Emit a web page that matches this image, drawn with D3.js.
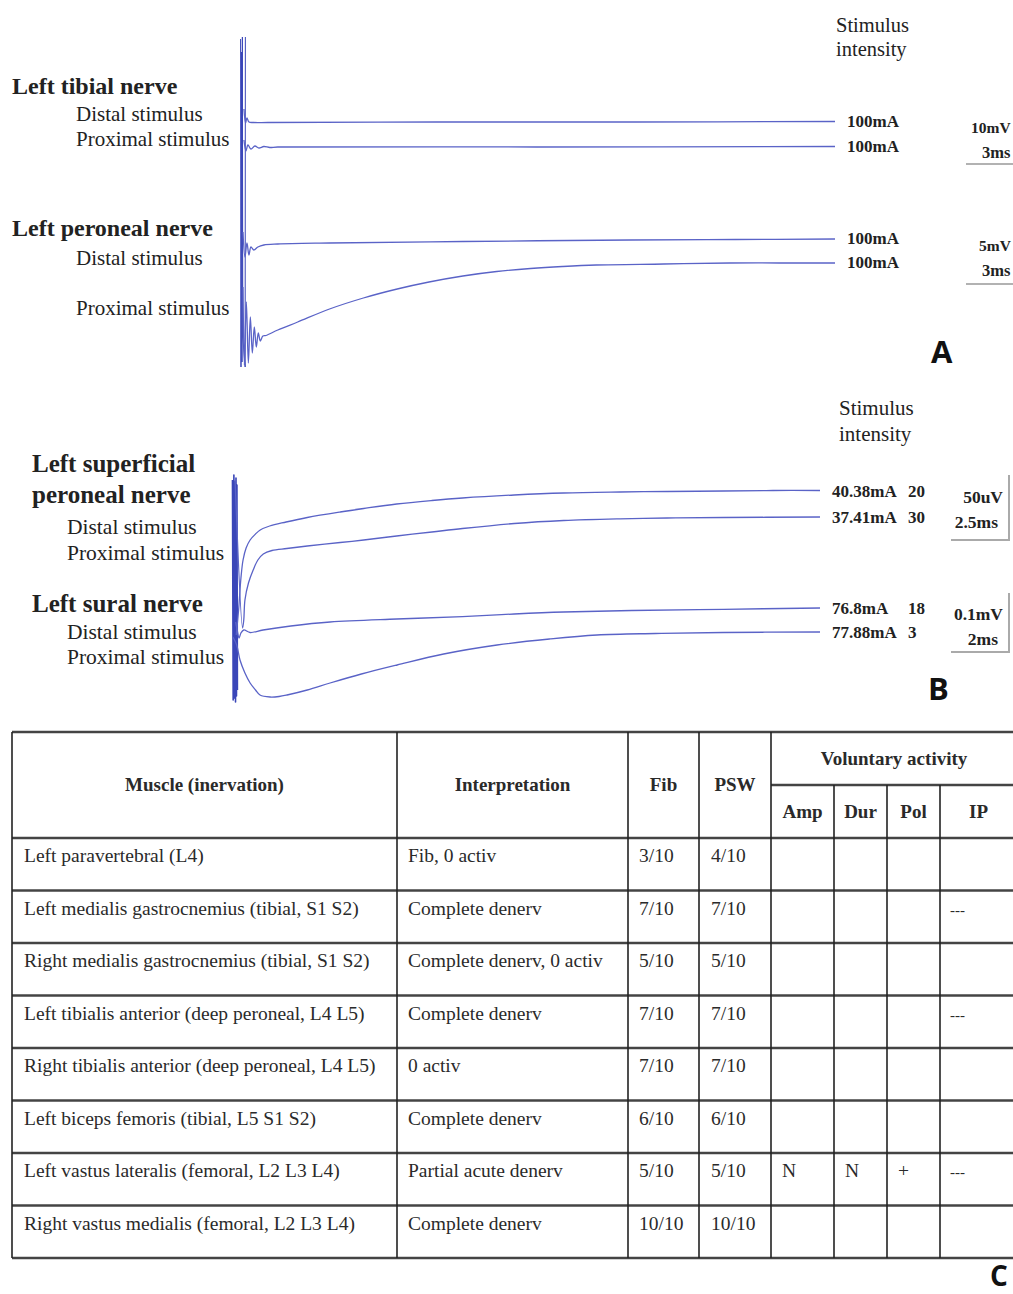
<!DOCTYPE html>
<html><head><meta charset="utf-8">
<script src="https://cdn.jsdelivr.net/npm/d3@7"></script>
<style>
html,body{margin:0;padding:0;background:#fff;overflow:hidden;}
svg{display:block;}
</style></head><body>
<svg id="chart" width="1013" height="1294"></svg>
<script>
// ================= DATA =================
// Panel A traces: [time (ms), deflection in display divisions from panel top]
const artifactA = [[0.13,0.2],[0.15,33],[0.18,1.5],[0.20,32.5],[0.22,0],[0.24,30],[0.30,31.5],[0.36,33],[0.37,0]];
const tibialDistal = [[0.30,7.2],[0.38,8.6],[0.45,8.1],[0.55,8.5],[0.80,8.55],[1.50,8.55],[10,8.5],[20,8.5],[30,8.45]];
const tibialProximal = [[0.30,10.3],[0.40,11.4],[0.50,10.8],[0.65,11.2],[0.85,10.9],[1.05,11.1],[1.3,10.95],[1.6,11.05],[2.0,11.0],[15,11.0],[30,10.95]];
const peronealDistal = [[0.25,19.5],[0.35,22.0],[0.45,20.6],[0.55,21.8],[0.65,21.0],[0.80,21.3],[1.0,21.0],[1.3,20.8],[2.0,20.7],[4.6,20.6],[11.3,20.45],[19.7,20.3],[25,20.25],[30,20.2]];
const peronealProximal = [[0.25,25.0],[0.32,32.8],[0.42,26.5],[0.52,32.6],[0.62,28.0],[0.72,31.6],[0.82,29.0],[0.92,31.0],[1.02,29.6],[1.12,30.4],[1.25,29.9],[1.4,29.85],[2.0,29.3],[3.0,28.5],[4.6,27.2],[6.3,26.1],[8.0,25.2],[9.6,24.5],[11.3,23.9],[13.0,23.45],[14.7,23.15],[16.3,22.95],[18.0,22.8],[21.4,22.7],[24.7,22.6],[27.2,22.6],[30,22.6]];

// Panel B traces
const artifactB = [[0.02,1.0],[0.05,23.0],[0.08,0.5],[0.10,22.8],[0.12,1.2],[0.15,23.2],[0.17,0.8],[0.19,22.6],[0.21,1.5],[0.23,22.0]];
const spDistal = [[0.18,16.5],[0.28,14.0],[0.38,10.8],[0.47,9.0],[0.60,7.8],[0.77,7.0],[1.0,6.4],[1.2,6.0],[1.6,5.6],[2.3,5.2],[3.2,4.75],[4.6,4.2],[5.6,3.85],[7.0,3.4],[8.5,3.05],[9.8,2.8],[12.0,2.5],[14.1,2.3],[16.5,2.2],[18.5,2.15],[20.9,2.1],[23,2.05],[25,2.05]];
const spProximal = [[0.13,1.0],[0.45,15.8],[0.50,15.0],[0.55,13.0],[0.70,11.3],[0.90,10.0],[1.1,9.0],[1.33,8.4],[1.7,8.05],[2.33,7.85],[3.2,7.6],[4.6,7.25],[5.6,7.0],[7.0,6.6],[8.5,6.2],[9.8,5.85],[12.0,5.35],[14.1,5.05],[16.5,4.88],[18.5,4.8],[20.9,4.75],[25,4.7]];
const suralDistal = [[0.15,15.2],[0.22,16.0],[0.30,16.8],[0.38,16.3],[0.50,16.0],[0.77,16.25],[1.32,16.0],[2.5,15.6],[4.17,15.2],[7.0,14.9],[9.8,14.67],[12,14.4],[14.1,14.2],[17,14.05],[20.9,13.93],[25,13.8]];
const suralProximal = [[0.04,16.7],[0.20,17.5],[0.34,19.0],[0.55,20.3],[0.77,21.3],[1.0,22.0],[1.19,22.5],[1.62,22.7],[2.0,22.65],[2.34,22.5],[3.2,22.0],[4.17,21.3],[5.5,20.4],[7.02,19.5],[9.0,18.4],[11.27,17.5],[13.5,16.9],[15.52,16.5],[18,16.35],[20.88,16.25],[25,16.2]];

// Labels
const panelALabels = ["Left tibial nerve","Distal stimulus","Proximal stimulus","Left peroneal nerve","Distal stimulus","Proximal stimulus"];
const panelBLabels = ["Left superficial","peroneal nerve","Distal stimulus","Proximal stimulus","Left sural nerve","Distal stimulus","Proximal stimulus"];
const intensityA = ["100mA","100mA","100mA","100mA"];
const intensityB = ["40.38mA","37.41mA","76.8mA","77.88mA"];
const countsB = ["20","30","18","3"];
const scaleA = [["10mV","3ms"],["5mV","3ms"]];
const scaleB = [["50uV","2.5ms"],["0.1mV","2ms"]];

// Table C
const muscles = ["Left paravertebral (L4)","Left medialis gastrocnemius (tibial, S1 S2)","Right medialis gastrocnemius (tibial, S1 S2)","Left tibialis anterior (deep peroneal, L4 L5)","Right tibialis anterior (deep peroneal, L4 L5)","Left biceps femoris (tibial, L5 S1 S2)","Left vastus lateralis (femoral, L2 L3 L4)","Right vastus medialis (femoral, L2 L3 L4)"];
const interpretation = ["Fib, 0 activ","Complete denerv","Complete denerv, 0 activ","Complete denerv","0 activ","Complete denerv","Partial acute denerv","Complete denerv"];
const fib = ["3/10","7/10","5/10","7/10","7/10","6/10","5/10","10/10"];
const psw = ["4/10","7/10","5/10","7/10","7/10","6/10","5/10","10/10"];
const amp = ["","","","","","","N",""];
const dur = ["","","","","","","N",""];
const pol = ["","","","","","","+",""];
const ip = ["","---","","---","","","---",""];
const headers = ["Muscle (inervation)","Interpretation","Fib","PSW","Voluntary activity"];
const subHeaders = ["Amp","Dur","Pol","IP"];

// ================= DRAW =================
const svg = d3.select("#chart");
const serif = "'Liberation Serif','Times New Roman',serif";
const sans = "'Open Sans','Liberation Sans',Arial,sans-serif";
const traceColor = "#5a63c7";
const artColor = "#3a46b8";
const txtColor = "#222";

svg.append("rect").attr("width",1013).attr("height",1294).attr("fill","#fff");

const xA = d3.scaleLinear().domain([0,30]).range([238,835]);
const yA = d3.scaleLinear().domain([0,33]).range([37,367]);
const xB = d3.scaleLinear().domain([0,25]).range([232,820]);
const yB = d3.scaleLinear().domain([0,25]).range([470,720]);

function drawTrace(data, x, y, color, width, curve){
  const line = d3.line().x(d=>x(d[0])).y(d=>y(d[1])).curve(curve);
  svg.append("path").attr("d", line(data)).attr("fill","none")
    .attr("stroke", color).attr("stroke-width", width).attr("stroke-linejoin","round");
}

// Panel A
drawTrace(artifactA, xA, yA, artColor, 1.0, d3.curveLinear);
[tibialDistal, tibialProximal, peronealDistal, peronealProximal].forEach(t =>
  drawTrace(t, xA, yA, traceColor, 1.3, d3.curveCatmullRom.alpha(0.5)));

const gA = svg.append("g").attr("font-family", serif).attr("fill", txtColor);
const aLabelPos = [[12,94,true],[76,121,false],[76,146,false],[12,236,true],[76,265,false],[76,315,false]];
panelALabels.forEach((l,i)=>{
  gA.append("text").attr("x",aLabelPos[i][0]).attr("y",aLabelPos[i][1])
    .attr("font-size", aLabelPos[i][2]?24:21).attr("font-weight", aLabelPos[i][2]?"bold":"normal").text(l);
});
gA.append("text").attr("x",836).attr("y",32).attr("font-size",20.5).text("Stimulus");
gA.append("text").attr("x",836).attr("y",56).attr("font-size",20.5).text("intensity");
const endsA = [tibialDistal, tibialProximal, peronealDistal, peronealProximal].map(t=>t[t.length-1][1]);
intensityA.forEach((l,i)=>{
  gA.append("text").attr("x",847).attr("y",yA(endsA[i])+5).attr("font-size",17).attr("font-weight","bold").text(l);
});
const scaleAPos = [[133,158,164,971],[251,276,284,979]];
scaleA.forEach((s,i)=>{
  const p = scaleAPos[i];
  gA.append("text").attr("x",p[3]).attr("y",p[0]).attr("font-size",15.5).attr("font-weight","bold").text(s[0]);
  gA.append("text").attr("x",982).attr("y",p[1]).attr("font-size",16.5).attr("font-weight","bold").text(s[1]);
  svg.append("line").attr("x1",966).attr("x2",1013).attr("y1",p[2]).attr("y2",p[2])
    .attr("stroke","#999").attr("stroke-width",1.5);
});
svg.append("text").attr("x",931).attr("y",363).attr("font-family",sans).attr("font-weight","bold")
  .attr("font-size",31).attr("fill","#111").text("A");

// Panel B
drawTrace(artifactB, xB, yB, artColor, 1.6, d3.curveLinear);
[spDistal, spProximal, suralDistal, suralProximal].forEach(t =>
  drawTrace(t, xB, yB, traceColor, 1.3, d3.curveCatmullRom.alpha(0.5)));

const gB = svg.append("g").attr("font-family", serif).attr("fill", txtColor);
const bLabelPos = [[32,472,true],[32,503,true],[67,534,false],[67,560,false],[32,612,true],[67,639,false],[67,664,false]];
panelBLabels.forEach((l,i)=>{
  gB.append("text").attr("x",bLabelPos[i][0]).attr("y",bLabelPos[i][1])
    .attr("font-size", bLabelPos[i][2]?25:21.5).attr("font-weight", bLabelPos[i][2]?"bold":"normal").text(l);
});
gB.append("text").attr("x",839).attr("y",415).attr("font-size",21).text("Stimulus");
gB.append("text").attr("x",839).attr("y",441).attr("font-size",21).text("intensity");
const endsB = [spDistal, spProximal, suralDistal, suralProximal].map(t=>t[t.length-1][1]);
intensityB.forEach((l,i)=>{
  gB.append("text").attr("x",832).attr("y",yB(endsB[i])+6).attr("font-size",17).attr("font-weight","bold").text(l);
  gB.append("text").attr("x",908).attr("y",yB(endsB[i])+6).attr("font-size",17).attr("font-weight","bold").text(countsB[i]);
});
const scaleBPos = [[503,528,475,540],[620,645,593,652]];
scaleB.forEach((s,i)=>{
  const p = scaleBPos[i];
  gB.append("text").attr("x",1003).attr("y",p[0]).attr("text-anchor","end").attr("font-size",17.5).attr("font-weight","bold").text(s[0]);
  gB.append("text").attr("x",998).attr("y",p[1]).attr("text-anchor","end").attr("font-size",17.5).attr("font-weight","bold").text(s[1]);
  svg.append("path").attr("d",`M1009,${p[2]}V${p[3]}H951`).attr("fill","none").attr("stroke","#aaa").attr("stroke-width",2);
});
svg.append("text").attr("x",928).attr("y",700).attr("font-family",sans).attr("font-weight","bold")
  .attr("font-size",31).attr("fill","#111").text("B");

// Table C
const colEdges = [12,397,628,699,771,834,887,940,1017];
const tTop = 732, tSub = 785, tHead = 838, tBottom = 1258;
const rowScale = d3.scaleBand().domain(muscles).range([tHead, tBottom]);
const gT = svg.append("g").attr("font-family", serif).attr("fill","#2a2a2a");
const hLineColor = "#444", vLineColor = "#222";

svg.append("line").attr("x1",colEdges[0]).attr("x2",colEdges[8]).attr("y1",tTop).attr("y2",tTop).attr("stroke",hLineColor).attr("stroke-width",2.5);
svg.append("line").attr("x1",colEdges[4]).attr("x2",colEdges[8]).attr("y1",tSub).attr("y2",tSub).attr("stroke",hLineColor).attr("stroke-width",2.5);
muscles.forEach(m=>{
  svg.append("line").attr("x1",colEdges[0]).attr("x2",colEdges[8]).attr("y1",rowScale(m)).attr("y2",rowScale(m))
    .attr("stroke",hLineColor).attr("stroke-width",2.5);
});
svg.append("line").attr("x1",colEdges[0]).attr("x2",colEdges[8]).attr("y1",tBottom).attr("y2",tBottom).attr("stroke",hLineColor).attr("stroke-width",2.5);
colEdges.forEach((x,i)=>{
  const y1 = (i>=5 && i<=7) ? tSub : tTop;
  svg.append("line").attr("x1",x).attr("x2",x).attr("y1",y1).attr("y2",tBottom).attr("stroke",vLineColor).attr("stroke-width",1.6);
});
const headCenters = [(colEdges[0]+colEdges[1])/2,(colEdges[1]+colEdges[2])/2,(colEdges[2]+colEdges[3])/2,(colEdges[3]+colEdges[4])/2];
headers.slice(0,4).forEach((h,i)=>{
  gT.append("text").attr("x",headCenters[i]).attr("y",(tTop+tHead)/2+6).attr("text-anchor","middle")
    .attr("font-size",19).attr("font-weight","bold").text(h);
});
gT.append("text").attr("x",(colEdges[4]+colEdges[8])/2).attr("y",(tTop+tSub)/2+6).attr("text-anchor","middle")
  .attr("font-size",19).attr("font-weight","bold").text(headers[4]);
subHeaders.forEach((h,i)=>{
  gT.append("text").attr("x",(colEdges[4+i]+colEdges[5+i])/2).attr("y",(tSub+tHead)/2+6).attr("text-anchor","middle")
    .attr("font-size",19).attr("font-weight","bold").text(h);
});
const cols = [muscles, interpretation, fib, psw, amp, dur, pol, ip];
const pads = [12,11,11,12,11,11,11,10];
cols.forEach((col,c)=>{
  col.forEach((v,r)=>{
    if(!v) return;
    gT.append("text").attr("x",colEdges[c]+pads[c]).attr("y",rowScale(muscles[r])+24)
      .attr("font-size", c===7?15:19.5).text(v);
  });
});
svg.append("text").attr("x",990).attr("y",1286).attr("font-family",sans).attr("font-weight","bold")
  .attr("font-size",28).attr("fill","#111").text("C");
</script>
</body></html>
